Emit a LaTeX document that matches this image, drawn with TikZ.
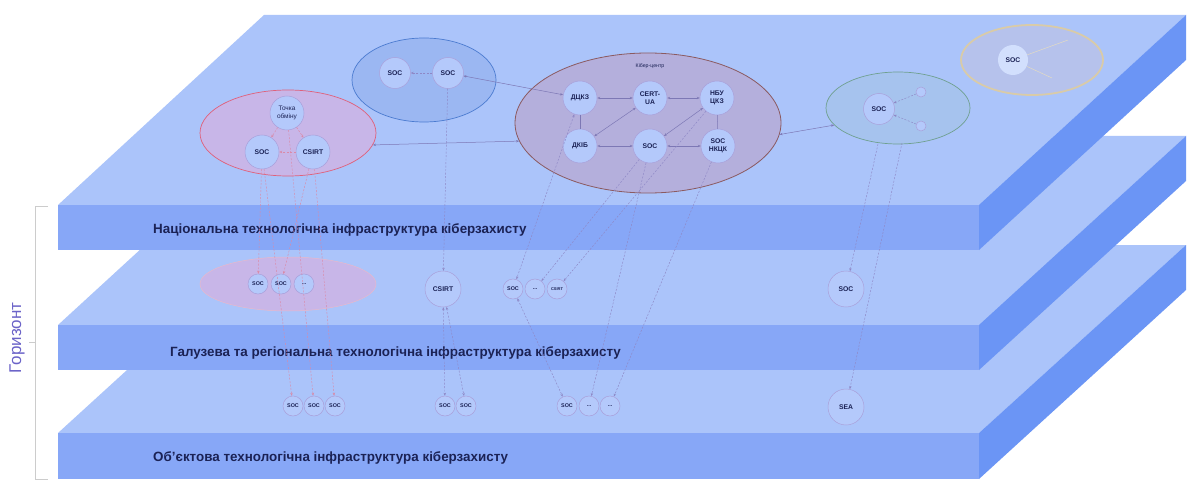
\documentclass[tikz,border=0pt]{standalone}
\usepackage{fontspec}
\setmainfont{Liberation Sans}
\usetikzlibrary{shapes.geometric,arrows.meta}
\definecolor{topf}{HTML}{ABC4FA}
\definecolor{frontf}{HTML}{87A7F7}
\definecolor{sidef}{HTML}{6B95F5}
\definecolor{navy}{HTML}{1B2255}
\definecolor{hzcol}{HTML}{6B63C8}
\definecolor{nodefill}{HTML}{B4C9FB}
\definecolor{nodeline}{HTML}{A9A0DA}
\definecolor{redfill}{HTML}{C8B6E8}
\definecolor{redline}{HTML}{E0607A}
\definecolor{bluefill}{HTML}{9BB7F2}
\definecolor{blueline}{HTML}{4B7BD0}
\definecolor{cyfill}{HTML}{B4AFDC}
\definecolor{cyline}{HTML}{8B5A60}
\definecolor{grfill}{HTML}{A6C3EE}
\definecolor{grline}{HTML}{6FA08F}
\definecolor{tanfill}{HTML}{B6C2EC}
\definecolor{tanline}{HTML}{D9CBA8}
\definecolor{dcol}{HTML}{8E88C6}
\definecolor{pcol}{HTML}{D98AA8}
\definecolor{scol}{HTML}{7D78B5}
\newcommand\drawslab[3]{%
  \fill[topf] (58,#2) -- (979,#2) -- (1186,#1) -- (264,#1) -- cycle;
  \fill[frontf] (58,#2) rectangle (979,#3);
  \fill[sidef] (979,#2) -- (1186,#1) -- (1186,#1+45) -- (979,#3) -- cycle;}
\begin{document}
\begin{tikzpicture}[x=1pt,y=-1pt,
  nd/.style={circle,draw=nodeline,fill=nodefill,line width=0.5pt,inner sep=0pt,
    minimum size=34pt,text=navy,align=center,font=\bfseries\fontsize{6.8}{7.8}\selectfont},
  snd/.style={nd,minimum size=20pt,font=\bfseries\fontsize{5.4}{6}\selectfont},
  mnd/.style={nd,minimum size=36pt},
  grp/.style={ellipse,inner sep=0pt,line width=0.7pt},
  barlabel/.style={anchor=west,text=navy,font=\bfseries\fontsize{13.4}{15}\selectfont,inner sep=0pt},
  tip/.style={-{Stealth[length=3pt,width=2.4pt]}},
  btip/.style={{Stealth[length=3pt,width=2.4pt]}-{Stealth[length=3pt,width=2.4pt]}},
  dlink/.style={draw=dcol,line width=0.45pt,dash pattern=on 2pt off 1.5pt},
  plink/.style={draw=pcol,line width=0.45pt,dash pattern=on 2pt off 1.5pt},
  slink/.style={draw=scol,line width=0.5pt}]
\fill[white] (0,0) rectangle (1201,481);
\useasboundingbox (0,0) rectangle (1201,481);
% slabs
\drawslab{245}{433}{479}
\drawslab{136}{325}{370}
\drawslab{15}{205}{250}
% labels
\node[barlabel] (l1) at (153,230) {Національна технологічна інфраструктура кіберзахисту};
\node[barlabel] (l2) at (170,353) {Галузева та регіональна технологічна інфраструктура кіберзахисту};
\node[barlabel] (l3) at (153,458) {Об'єктова технологічна інфраструктура кіберзахисту};
% horizon bracket
\draw[draw=black!20,line width=0.6pt] (48,206) -- (35,206) -- (35,479) -- (48,479);
\draw[draw=black!20,line width=0.6pt] (29,342) -- (35,342);
\node[rotate=90,text=hzcol,font=\fontsize{17}{19}\selectfont,inner sep=0pt] (hz) at (17,338) {Горизонт};
% ---- top layer
\node[grp,minimum width=176pt,minimum height=86pt,fill=redfill,draw=redline] (redE) at (288,133) {};
\node[nd,font=\fontsize{6.5}{7.5}\selectfont] (tochka) at (287,113) {Точка\\обміну};
\node[nd] (rsoc) at (262,152) {SOC};
\node[nd] (rcsirt) at (313,152) {CSIRT};
\draw[plink,tip] (tochka) -- (rsoc);
\draw[plink,tip] (tochka) -- (rcsirt);
\draw[plink,tip] (rcsirt) -- (rsoc);
\node[grp,minimum width=144pt,minimum height=84pt,fill=bluefill,draw=blueline] (blueE) at (424,80) {};
\node[nd,minimum size=31pt] (bsoc1) at (395,73) {SOC};
\node[nd,minimum size=31pt] (bsoc2) at (448,73) {SOC};
\draw[dlink,tip] (bsoc2) -- (bsoc1);
\node[grp,minimum width=266pt,minimum height=140pt,fill=cyfill,draw=cyline,line width=0.8pt] (cyber) at (648,123) {};
\node[text=navy,font=\fontsize{5.2}{6}\selectfont,inner sep=0pt] (cylabel) at (650,66) {Кібер-центр};
\node[nd] (dckz) at (580,98) {ДЦКЗ};
\node[nd] (cert) at (650,98) {CERT-\\UA};
\node[nd] (nbu) at (717,98) {НБУ\\ЦКЗ};
\node[nd] (dkib) at (580,146) {ДКІБ};
\node[nd] (csoc) at (650,146) {SOC};
\node[nd] (nkck) at (718,146) {SOC\\НКЦК};
\draw[slink,btip] (dckz) -- (cert);
\draw[slink,btip] (cert) -- (nbu);
\draw[slink,btip] (dkib) -- (csoc);
\draw[slink,btip] (csoc) -- (nkck);
\draw[slink,btip] (dkib) -- (cert);
\draw[slink,btip] (csoc) -- (nbu);
\draw[slink] (dckz) -- (dkib);
\draw[slink] (nbu) -- (nkck);
\node[grp,minimum width=144pt,minimum height=72pt,fill=grfill,draw=grline] (green) at (898,108) {};
\node[nd,minimum size=31pt] (gsoc) at (879,109) {SOC};
\node[circle,draw=nodeline,fill=nodefill,line width=0.5pt,inner sep=0pt,minimum size=10pt] (gs1) at (921,92) {};
\node[circle,draw=nodeline,fill=nodefill,line width=0.5pt,inner sep=0pt,minimum size=10pt] (gs2) at (921,126) {};
\draw[dlink,tip] (gs1) -- (gsoc);
\draw[dlink,tip] (gs2) -- (gsoc);
\node[grp,minimum width=142pt,minimum height=70pt,fill=tanfill,draw=tanline,line width=1.8pt] (tan) at (1032,60) {};
\coordinate (t1) at (1068,40);
\coordinate (t2) at (1052,78);
\node[circle,fill=nodefill!60!white,inner sep=0pt,minimum size=30pt,text=navy,font=\bfseries\fontsize{6.8}{7.8}\selectfont] (tsoc) at (1013,60) {SOC};
\draw[draw=tanline!70!white,line width=0.5pt] (tsoc) -- (t1);
\draw[draw=tanline!70!white,line width=0.5pt] (tsoc) -- (t2);
\draw[slink,btip] (redE.-8) -- (cyber.188);
\draw[slink,btip] (bsoc2) -- (dckz);
\draw[slink,btip] (cyber.-5) -- (green.195);
% ---- middle layer
\node[grp,minimum width=176pt,minimum height=54pt,fill=redfill,draw=pcol!60!white,line width=0.5pt] (redM) at (288,284) {};
\node[snd] (msoc1) at (258,284) {SOC};
\node[snd] (msoc2) at (281,284) {SOC};
\node[snd] (mdots) at (304,284) {...};
\node[mnd] (mcsirt) at (443,289) {CSIRT};
\node[snd] (msoc3) at (513,289) {SOC};
\node[snd] (mdots2) at (535,289) {...};
\node[snd,font=\bfseries\fontsize{4}{5}\selectfont] (mcsirt2) at (557,289) {CSIRT};
\node[mnd] (msoc4) at (846,289) {SOC};
% ---- bottom layer
\node[snd] (b1) at (293,406) {SOC};
\node[snd] (b2) at (314,406) {SOC};
\node[snd] (b3) at (335,406) {SOC};
\node[snd] (b4) at (445,406) {SOC};
\node[snd] (b5) at (466,406) {SOC};
\node[snd] (b6) at (567,406) {SOC};
\node[snd] (b7) at (589,406) {...};
\node[snd] (b8) at (610,406) {...};
\node[mnd] (sea) at (846,407) {SEA};
% ---- inter-layer connectors
\draw[plink,tip] (rsoc) -- (b1);
\draw[plink,tip] (tochka) -- (b2);
\draw[plink,tip] (rcsirt) -- (b3);
\draw[plink,tip] (rsoc) -- (msoc1);
\draw[plink,tip] (rcsirt) -- (msoc2);
\draw[dlink,tip] (bsoc2) -- (mcsirt);
\draw[dlink,btip] (mcsirt) -- (b4);
\draw[dlink,btip] (mcsirt) -- (b5);
\draw[dlink,btip] (dckz) -- (msoc3);
\draw[dlink,tip] (csoc) -- (mdots2);
\draw[dlink,tip] (nbu) -- (mcsirt2);
\draw[dlink,tip] (csoc) -- (b7);
\draw[dlink,tip] (nkck) -- (b8);
\draw[dlink,btip] (msoc3) -- (b6);
\coordinate (g1) at (878,144);
\coordinate (g2) at (902,143);
\draw[dlink,tip] (g1) -- (msoc4);
\draw[dlink,tip] (g2) -- (sea);
\end{tikzpicture}
\end{document}
